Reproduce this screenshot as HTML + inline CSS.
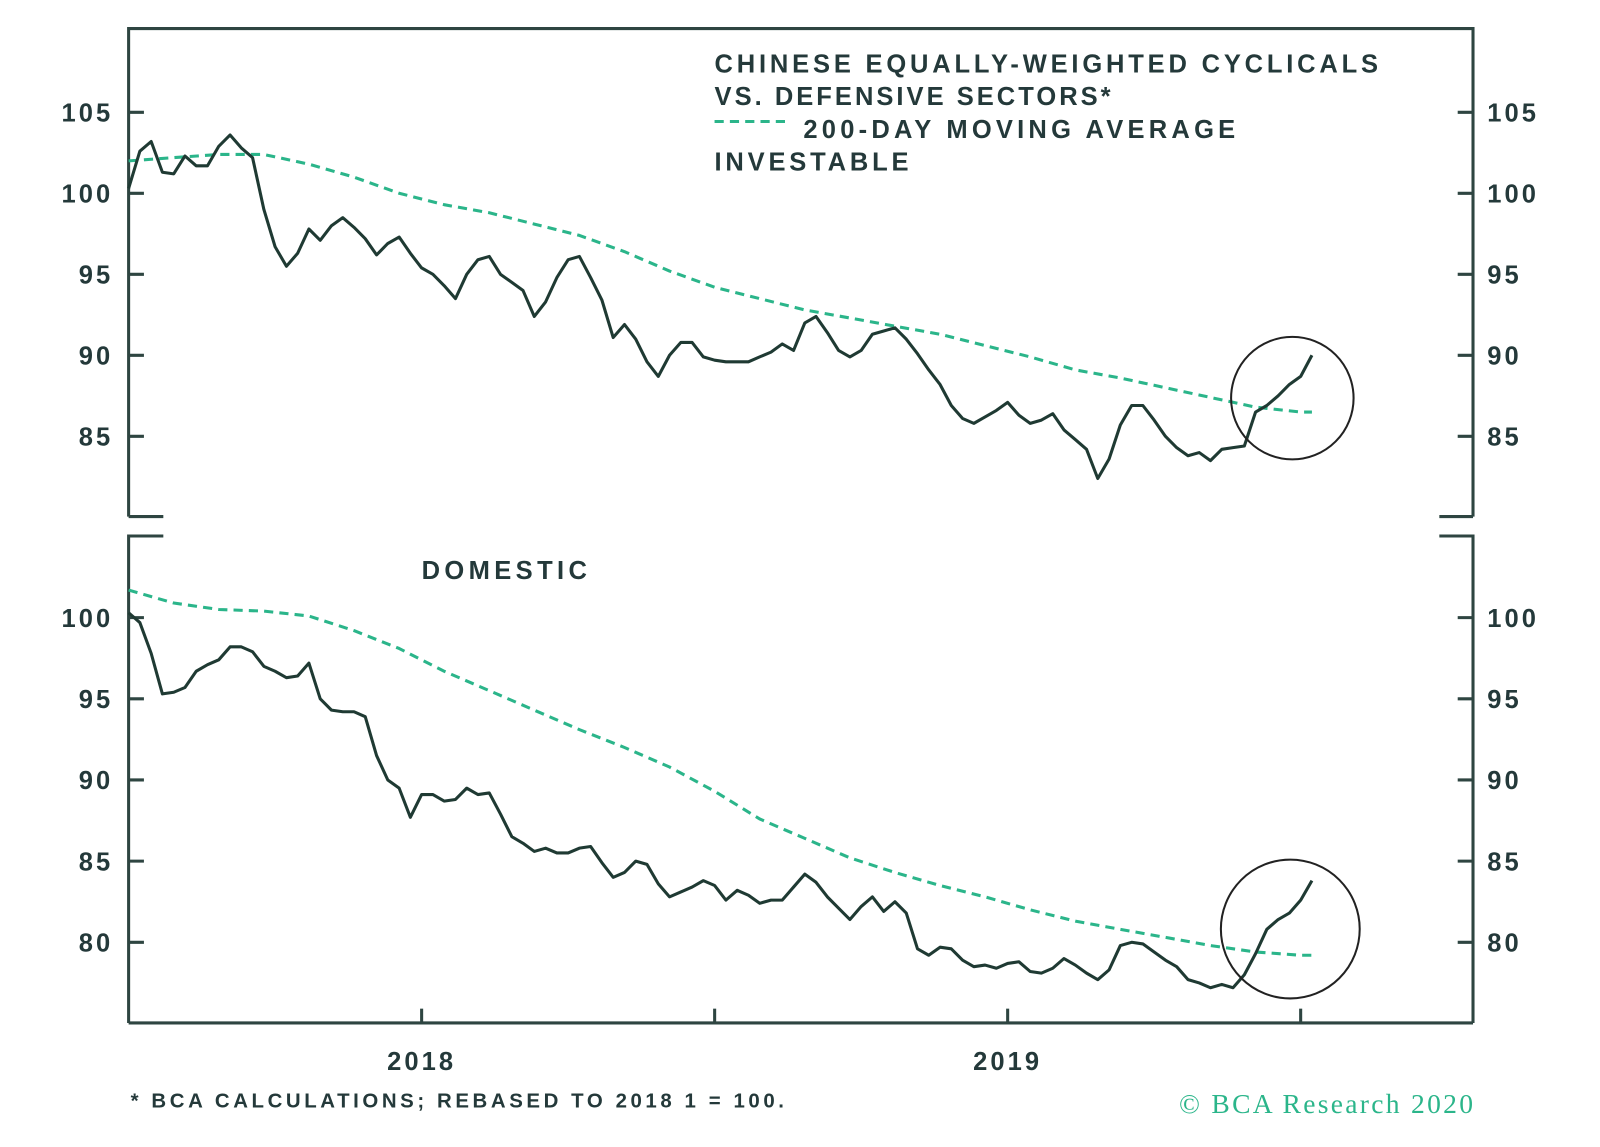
<!DOCTYPE html>
<html>
<head>
<meta charset="utf-8">
<style>
  html,body{margin:0;padding:0;background:#fff;}
  svg{display:block;}
  .lbl{font-family:"Liberation Sans",sans-serif;font-weight:bold;font-size:25px;fill:#24393a;}
  .tk{letter-spacing:3px;}
</style>
</head>
<body>
<svg id="chart" width="1600" height="1147" viewBox="0 0 1600 1147">
<g transform="scale(1.0208,1.0209)">
  <g id="frame" stroke="#2e4541" stroke-width="3" fill="none">
    <path d="M126,506 L126,28 L1443,28 L1443,506"/>
    <path d="M126,506 L160,506 M1443,506 L1410,506"/>
    <path d="M126,1002 L126,525 L160,525 M1443,1002 L1443,525 L1410,525"/>
    <path d="M126,1002 L1443,1002"/>
  </g>
  <g id="ticks"></g>
  <g id="series"></g>

  <g>
    <text class="lbl" x="700" y="71" textLength="650" lengthAdjust="spacing">CHINESE EQUALLY-WEIGHTED CYCLICALS</text>
    <text class="lbl" x="700" y="103" textLength="388" lengthAdjust="spacing">VS. DEFENSIVE SECTORS*</text>
    <line x1="700" y1="119" x2="770" y2="119" stroke="#2bb58a" stroke-width="3" stroke-dasharray="9,6"/>
    <text class="lbl" x="787" y="135" textLength="423" lengthAdjust="spacing">200-DAY MOVING AVERAGE</text>
    <text class="lbl" x="700" y="167" textLength="190" lengthAdjust="spacing">INVESTABLE</text>
  </g>
  <text class="lbl" x="413" y="567" textLength="162" lengthAdjust="spacing">DOMESTIC</text>

  <circle cx="1266" cy="390" r="60" fill="none" stroke="#222" stroke-width="2"/>
  <circle cx="1264" cy="910" r="68" fill="none" stroke="#222" stroke-width="2"/>

  <text x="128" y="1085" textLength="640" lengthAdjust="spacing" style="font-family:'Liberation Sans',sans-serif;font-weight:bold;font-size:20px;fill:#24393a">* BCA CALCULATIONS; REBASED TO 2018 1 = 100.</text>
  <text x="1155" y="1090" textLength="288" lengthAdjust="spacing" style="font-family:'Liberation Serif',serif;font-size:27px;fill:#2bb58a">© BCA Research 2020</text>
</g>
</svg>
<script>
const topValues = [100.3,102.6,103.2,101.3,101.2,102.3,101.7,101.7,102.9,103.6,102.8,102.2,99.0,96.7,95.5,96.3,97.8,97.1,98.0,98.5,97.9,97.2,96.2,96.9,97.3,96.3,95.4,95.0,94.3,93.5,95.0,95.9,96.1,95.0,94.5,94.0,92.4,93.3,94.8,95.9,96.1,94.8,93.4,91.1,91.9,91.0,89.6,88.7,90.0,90.8,90.8,89.9,89.7,89.6,89.6,89.6,89.9,90.2,90.7,90.3,92.0,92.4,91.4,90.3,89.9,90.3,91.3,91.5,91.7,91.0,90.1,89.1,88.2,86.9,86.1,85.8,86.2,86.6,87.1,86.3,85.8,86.0,86.4,85.4,84.8,84.2,82.4,83.6,85.7,86.9,86.9,86.0,85.0,84.3,83.8,84.0,83.5,84.2,84.3,84.4,86.5,86.9,87.5,88.2,88.7,90.0];
const bottomValues = [100.3,99.7,97.8,95.3,95.4,95.7,96.7,97.1,97.4,98.2,98.2,97.9,97.0,96.7,96.3,96.4,97.2,95.0,94.3,94.2,94.2,93.9,91.5,90.0,89.5,87.7,89.1,89.1,88.7,88.8,89.5,89.1,89.2,87.9,86.5,86.1,85.6,85.8,85.5,85.5,85.8,85.9,84.9,84.0,84.3,85.0,84.8,83.6,82.8,83.1,83.4,83.8,83.5,82.6,83.2,82.9,82.4,82.6,82.6,83.4,84.2,83.7,82.8,82.1,81.4,82.2,82.8,81.9,82.5,81.8,79.6,79.2,79.7,79.6,78.9,78.5,78.6,78.4,78.7,78.8,78.2,78.1,78.4,79.0,78.6,78.1,77.7,78.3,79.8,80.0,79.9,79.4,78.9,78.5,77.7,77.5,77.2,77.4,77.2,78.0,79.3,80.8,81.4,81.8,82.6,83.8];
const maWeeks = [0,4,8,12,16,20,24,28,32,36,40,44,48,52,56,60,64,68,72,76,80,84,88,92,96,100,104,105];
const topMA = [102.0,102.2,102.4,102.4,101.8,101.0,100.0,99.3,98.8,98.1,97.4,96.4,95.2,94.2,93.5,92.8,92.3,91.8,91.3,90.6,89.9,89.1,88.6,88.0,87.4,86.8,86.5,86.5];
const bottomMA = [101.7,100.9,100.5,100.4,100.1,99.2,98.1,96.7,95.5,94.3,93.1,92.0,90.8,89.3,87.6,86.4,85.2,84.3,83.5,82.8,82.0,81.3,80.8,80.3,79.8,79.4,79.2,79.2];
const topTicks = [105,100,95,90,85];
const bottomTicks = [100,95,90,85,80];
const xTickWeeks = [26,52,78,104];
const xLabels = ["2018","2019"];
const xLabelWeeks = [26,78];

const NS = "http://www.w3.org/2000/svg";
const xScale = w => 126 + w * 11.04;
const yTop = v => 110 + (105 - v) * 15.87;
const yBot = v => 605 + (100 - v) * 15.9;

const ticksG = document.getElementById('ticks');
const seriesG = document.getElementById('series');
function mk(tag, attrs, parent){ const e=document.createElementNS(NS,tag); for(const k in attrs) e.setAttribute(k,attrs[k]); parent.appendChild(e); return e; }

function yAxis(ticks, scale, name){
  ticks.forEach(t=>{
    const y = scale(t);
    const l1 = mk('path',{d:`M126,${y} L141,${y} M1443,${y} L1428,${y}`,stroke:'#2e4541','stroke-width':3,fill:'none'},ticksG);
    
    
    const a = mk('text',{x:111,y:y+9,'text-anchor':'end',class:'lbl tk'},ticksG);
    a.textContent = t;
    
    
    const b = mk('text',{x:1457,y:y+9,'text-anchor':'start',class:'lbl tk'},ticksG);
    b.textContent = t;
    
    
  });
}
yAxis(topTicks, yTop, 'top-y-axis');
yAxis(bottomTicks, yBot, 'bottom-y-axis');

xTickWeeks.forEach(w=>{
  const x = xScale(w);
  const t = mk('line',{x1:x,x2:x,y1:988,y2:1002,stroke:'#2e4541','stroke-width':3},ticksG);
  
  
});
xLabels.forEach((s,i)=>{
  const t = mk('text',{x:xScale(xLabelWeeks[i]),y:1048,'text-anchor':'middle',class:'lbl tk'},ticksG);
  t.textContent = s;
  
  
});

function line(weeks, vals, scale, dashed, name){
  const d = vals.map((v,i)=>(i?'L':'M')+xScale(weeks[i]).toFixed(1)+','+scale(v).toFixed(1)).join(' ');
  const p = mk('path',{d, fill:'none', stroke: dashed?'#2bb58a':'#1f3a33','stroke-width':3,'stroke-linejoin':'round'},seriesG);
  if(dashed) p.setAttribute('stroke-dasharray','9,6');
  
  
}
const weeks = topValues.map((_,i)=>i);
line(maWeeks, topMA, yTop, true, 'top-moving-average-line');
line(weeks, topValues, yTop, false, 'top-relative-performance-line');
line(maWeeks, bottomMA, yBot, true, 'bottom-moving-average-line');
line(bottomValues.map((_,i)=>i), bottomValues, yBot, false, 'bottom-relative-performance-line');
</script>
</body>
</html>
